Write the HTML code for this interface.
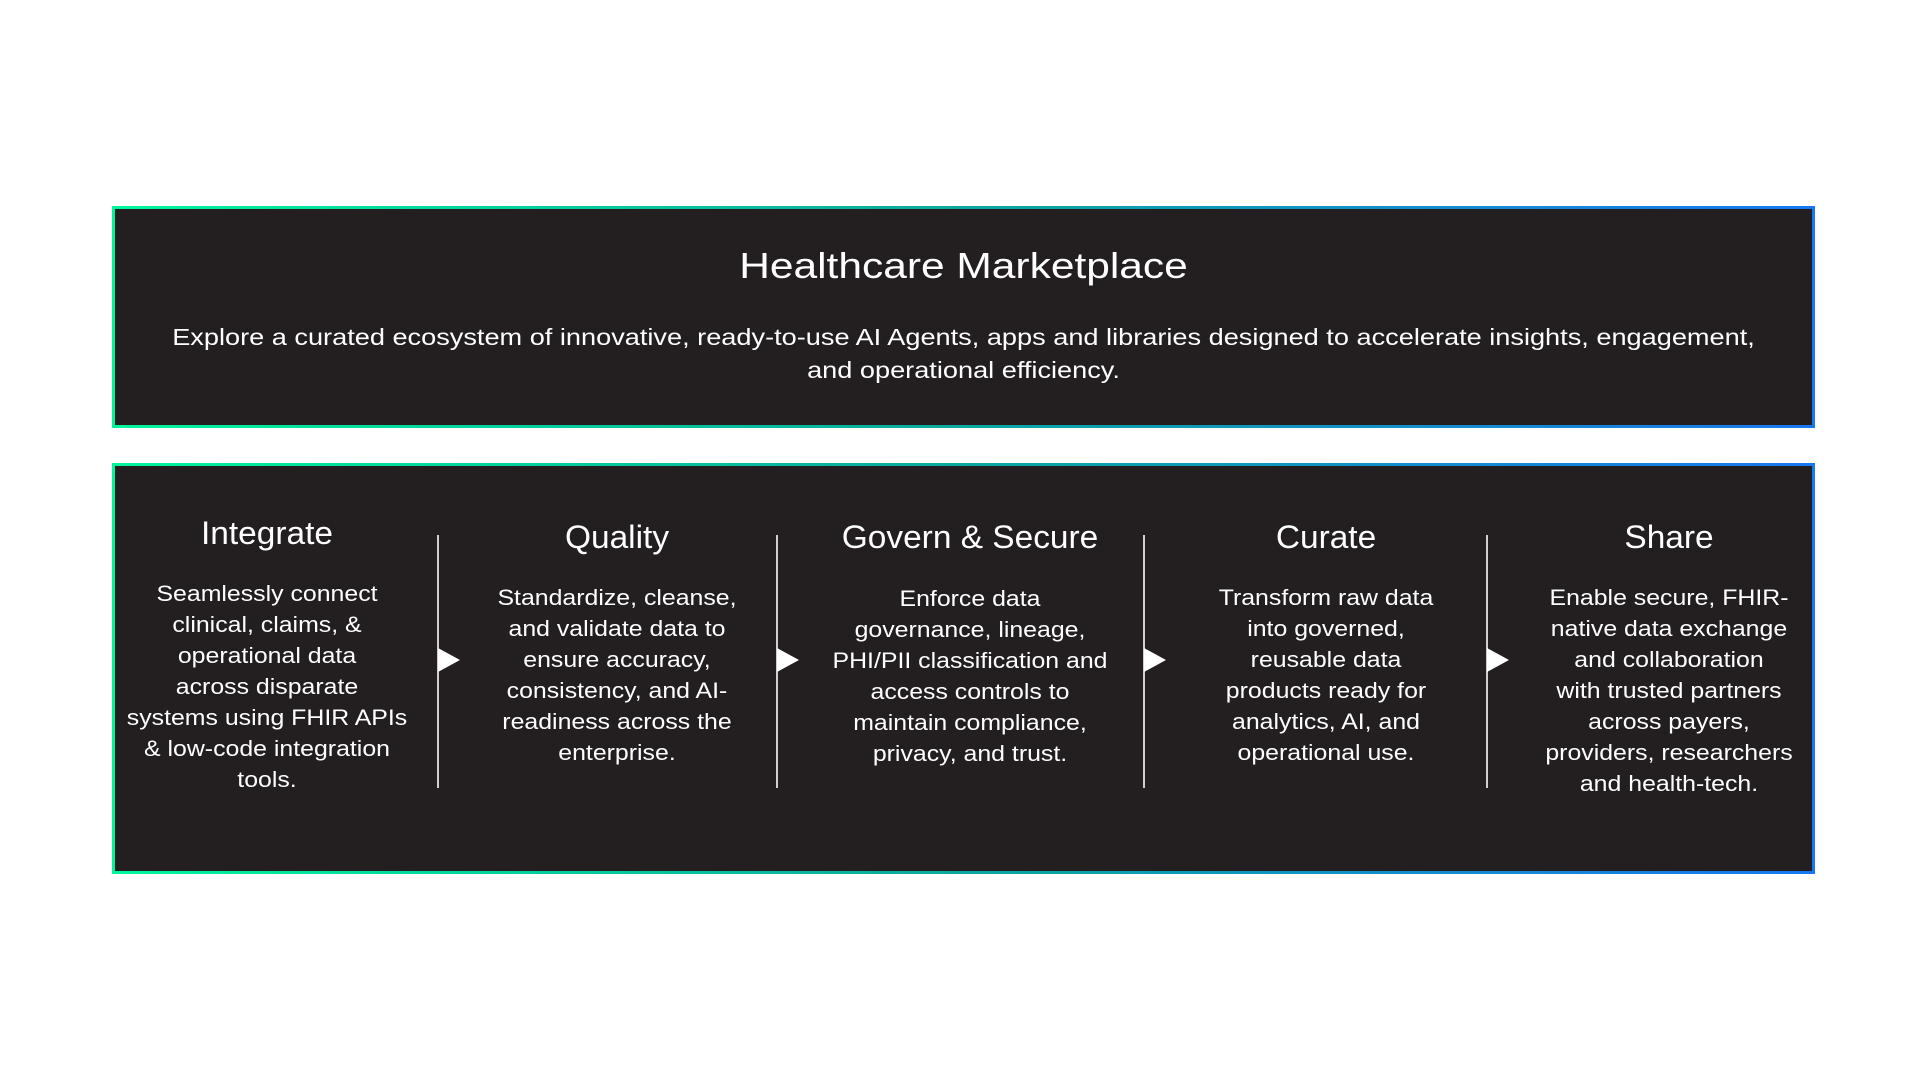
<!DOCTYPE html>
<html><head><meta charset="utf-8"><style>
body{margin:0;width:1920px;height:1080px;background:#fff;position:relative;overflow:hidden;font-family:"Liberation Sans",sans-serif;color:#fff}
.box{position:absolute;left:112px;width:1703px;background:linear-gradient(90deg,#00f59b,#0aa8a0 50%,#1877f2);padding:3px;box-sizing:border-box}
.box>div{width:100%;height:100%;background:#231f20}
.t{position:absolute;text-align:center;white-space:nowrap}
.h{font-size:32px;transform:translateX(-50%) scaleX(1.045)}
.b{font-size:22px;line-height:31px;transform:translateX(-50%) scaleX(1.13)}
.ln{position:absolute;width:2px;background:#cfcfcf;top:535px;height:253px}
.tri{position:absolute;top:648px;width:0;height:0;border-top:12px solid transparent;border-bottom:12px solid transparent;border-left:22px solid #fff}
</style></head><body>
<div class="box" style="top:206px;height:222px"><div></div></div>
<div class="box" style="top:463px;height:411px"><div></div></div>
<div class="t" style="left:0;width:1927px;top:245px;font-size:36px;transform:scaleX(1.18)">Healthcare Marketplace</div>
<div class="t" style="left:0;width:1927px;top:321px;font-size:23px;line-height:33px;transform:scaleX(1.18)">Explore a curated ecosystem of innovative, ready-to-use AI Agents, apps and libraries designed to accelerate insights, engagement,<br>and operational efficiency.</div>

<div class="t h" style="left:267px;top:515px">Integrate</div>
<div class="t b" style="left:267px;top:578px">Seamlessly connect<br>clinical, claims, &amp;<br>operational data<br>across disparate<br>systems using FHIR APIs<br>&amp; low-code integration<br>tools.</div>

<div class="t h" style="left:617px;top:519px">Quality</div>
<div class="t b" style="left:617px;top:582px">Standardize, cleanse,<br>and validate data to<br>ensure accuracy,<br>consistency, and AI-<br>readiness across the<br>enterprise.</div>

<div class="t h" style="left:970px;top:519px">Govern &amp; Secure</div>
<div class="t b" style="left:970px;top:583px">Enforce data<br>governance, lineage,<br>PHI/PII classification and<br>access controls to<br>maintain compliance,<br>privacy, and trust.</div>

<div class="t h" style="left:1326px;top:519px">Curate</div>
<div class="t b" style="left:1326px;top:582px">Transform raw data<br>into governed,<br>reusable data<br>products ready for<br>analytics, AI, and<br>operational use.</div>

<div class="t h" style="left:1669px;top:519px">Share</div>
<div class="t b" style="left:1669px;top:582px">Enable secure, FHIR-<br>native data exchange<br>and collaboration<br>with trusted partners<br>across payers,<br>providers, researchers<br>and health-tech.</div>

<div class="ln" style="left:437px"></div><div class="tri" style="left:438px"></div>
<div class="ln" style="left:776px"></div><div class="tri" style="left:777px"></div>
<div class="ln" style="left:1143px"></div><div class="tri" style="left:1144px"></div>
<div class="ln" style="left:1486px"></div><div class="tri" style="left:1487px"></div>
</body></html>
